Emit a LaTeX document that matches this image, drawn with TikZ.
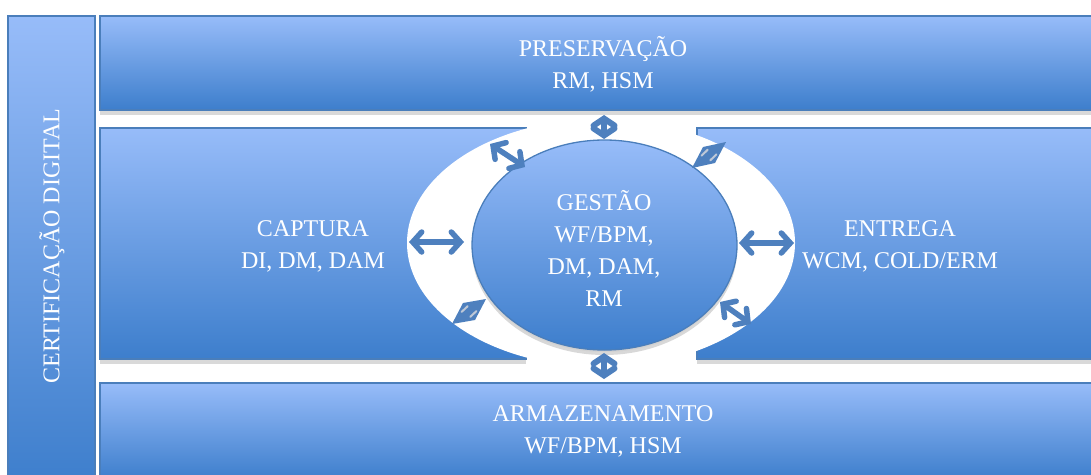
\documentclass[tikz,border=0pt]{standalone}
\usepackage{fontspec}
\setmainfont{Liberation Serif}
\usetikzlibrary{shadows,arrows.meta,shapes.geometric}
\definecolor{boxtop}{RGB}{151,188,249}
\definecolor{boxbot}{RGB}{61,126,204}
\definecolor{boxline}{RGB}{74,126,187}
\definecolor{arrowc}{RGB}{78,128,190}
\definecolor{spot}{RGB}{190,200,215}
\begin{document}
\begin{tikzpicture}[x=1pt,y=-1pt,
  panel/.style={draw=boxline,line width=1.3pt,top color=boxtop,bottom color=boxbot,
     drop shadow={opacity=0.3,shadow xshift=0pt,shadow yshift=-5pt}},
  rectpanel/.style={panel,rectangle,inner sep=0pt},
  lbl/.style={text=white,font=\fontsize{24}{32}\selectfont,align=center},
  dbl/.style={draw=arrowc,line width=5.5pt,line cap=round,
     {Straight Barb[length=9pt,width=20pt,line cap=round]}-{Straight Barb[length=9pt,width=20pt,line cap=round]}},
  stub/.style={draw=arrowc,line width=6pt,line cap=round,
     {Straight Barb[length=7pt,width=21pt,line cap=round]}-{Straight Barb[length=7pt,width=21pt,line cap=round]}},
  kite/.style={fill=arrowc},
  spotline/.style={draw=spot,line width=2pt,line cap=round}]
\useasboundingbox (0,0) rectangle (1091,474);
\clip (0,0) rectangle (1091,474);
% left vertical bar
\node[rectpanel,minimum width=87pt,minimum height=470pt] (cert) at (51.5,251) {};
\node[lbl,rotate=90] (certt) at (52,246) {CERTIFICAÇÃO DIGITAL};
% top bar
\node[rectpanel,minimum width=1000pt,minimum height=94pt] (pres) at (600,63) {};
\node[lbl] (prest) at (603,64) {PRESERVAÇÃO\\RM, HSM};
% bottom bar
\node[rectpanel,minimum width=1000pt,minimum height=97pt] (arm) at (600,431.5) {};
\node[lbl] (armt) at (603,431) {ARMAZENAMENTO\\WF/BPM, HSM};
% middle boxes
\node[rectpanel,minimum width=426pt,minimum height=231pt] (cap) at (313,243.5) {};
\node[lbl] (capt) at (313,246) {CAPTURA\\DI, DM, DAM};
\node[rectpanel,minimum width=406pt,minimum height=231pt] (ent) at (900,243.5) {};
\node[lbl] (entt) at (900,246) {ENTREGA\\WCM, COLD/ERM};
% white ring
\node[ellipse,fill=white,inner sep=0pt,minimum width=388pt,minimum height=248pt] (ring) at (601,243) {};
% center ellipse
\node[panel,ellipse,inner sep=0pt,minimum width=265pt,minimum height=210pt,
      drop shadow={opacity=0.08,shadow xshift=0pt,shadow yshift=-2pt}] (gest) at (604.5,245) {};
\node[lbl] (gestt) at (604,248) {GESTÃO\\WF/BPM,\\DM, DAM,\\RM};
% arrow end points
\coordinate (l1) at (409,242);
\coordinate (l2) at (464,242);
\coordinate (r1) at (739,243);
\coordinate (r2) at (794,243);
\coordinate (t1) at (604,115);
\coordinate (t2) at (604,139);
\coordinate (b1) at (604,353);
\coordinate (b2) at (604,379);
\coordinate (ul1) at (490,144);
\coordinate (ul2) at (525,167);
\coordinate (lr1) at (720,302);
\coordinate (lr2) at (751,324);
% kite corners
\coordinate (ll1) at (452,324);
\coordinate (lla) at (463,303);
\coordinate (ll2) at (486,299);
\coordinate (llb) at (475,320);
\coordinate (ur1) at (692,168);
\coordinate (ura) at (703,147);
\coordinate (ur2) at (726,142);
\coordinate (urb) at (715,163);
% arrows
\draw[dbl] (l1) -- (l2);
\draw[dbl] (r1) -- (r2);
\draw[stub] (t1) -- (t2);
\draw[stub] (b1) -- (b2);
\draw[dbl] (ul1) -- (ul2);
\draw[dbl] (lr1) -- (lr2);
% degenerate double arrows (kites)
\fill[kite] (ll1) -- (lla) -- (ll2) -- (llb) -- cycle;
\fill[kite] (ur1) -- (ura) -- (ur2) -- (urb) -- cycle;
\coordinate (m1a) at (461.5,312); \coordinate (m1b) at (467.7,306.2);
\coordinate (m2a) at (470.3,316.8); \coordinate (m2b) at (476.5,311);
\coordinate (m3a) at (701.5,155.7); \coordinate (m3b) at (707.7,149.7);
\coordinate (m4a) at (710.3,160.3); \coordinate (m4b) at (716.5,154.3);
\draw[spotline] (m1a) -- (m1b);
\draw[spotline] (m2a) -- (m2b);
\draw[spotline] (m3a) -- (m3b);
\draw[spotline] (m4a) -- (m4b);
\end{tikzpicture}
\end{document}
